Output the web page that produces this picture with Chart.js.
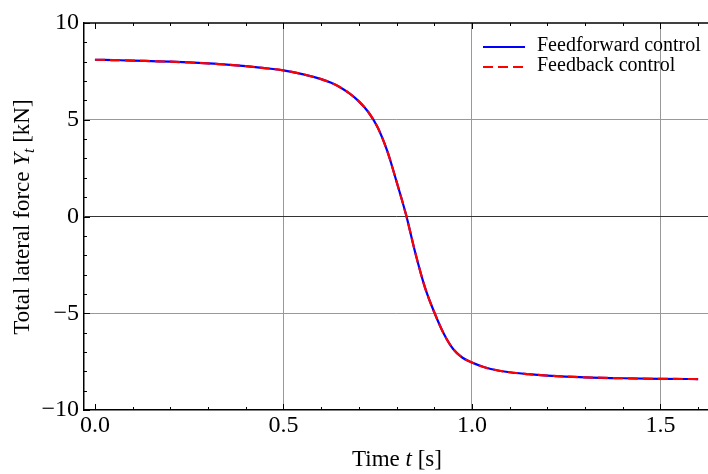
<!DOCTYPE html>
<html>
<head>
<meta charset="utf-8">
<script src="https://cdn.jsdelivr.net/npm/chart.js@4"></script>
<style>
  html, body { margin: 0; padding: 0; background: #fff; }
  #wrap { width: 708px; height: 474px; }
</style>
</head>
<body>
<div id="wrap"><canvas id="forceChart" width="708" height="474"></canvas></div>
<script>
// time samples [s]
const timeS = [0, 0.05, 0.1, 0.15, 0.2, 0.25, 0.3, 0.35, 0.4, 0.45, 0.5, 0.55, 0.6, 0.625, 0.65,
  0.675, 0.7, 0.725, 0.75, 0.775, 0.8, 0.825, 0.85, 0.875, 0.9, 0.925, 0.95, 0.975, 1.0,
  1.025, 1.05, 1.1, 1.15, 1.2, 1.3, 1.4, 1.5, 1.6];
// total lateral force [kN]
const feedforward = [8.10, 8.08, 8.06, 8.03, 8.00, 7.96, 7.91, 7.85, 7.77, 7.67, 7.55, 7.36, 7.10, 6.92, 6.68,
  6.36, 5.95, 5.40, 4.60, 3.40, 1.80, 0.10, -1.90, -3.65, -4.95, -6.05, -6.85, -7.30, -7.55,
  -7.74, -7.88, -8.05, -8.15, -8.22, -8.31, -8.36, -8.39, -8.40];
const feedback = [8.10, 8.08, 8.06, 8.03, 8.00, 7.96, 7.91, 7.85, 7.77, 7.67, 7.55, 7.36, 7.10, 6.92, 6.68,
  6.36, 5.95, 5.40, 4.60, 3.40, 1.80, 0.10, -1.90, -3.65, -4.95, -6.05, -6.85, -7.30, -7.55,
  -7.74, -7.88, -8.05, -8.15, -8.22, -8.31, -8.36, -8.39, -8.40];
const xTicks = [0, 0.5, 1.0, 1.5];
const yTicks = [-10, -5, 0, 5, 10];

const serif = "'Liberation Serif', 'DejaVu Serif', serif";
const toPoints = (ys) => ys.map((y, i) => ({ x: timeS[i], y: y }));
const fmtMinus = (v) => String(v).replace('-', '\u2212');

// frame ticks, top border, axis titles and the legend
const decorations = {
  id: 'decorations',
  afterDraw(chart) {
    const c = chart.ctx;
    const a = chart.chartArea;
    const xs = chart.scales.x;
    const ys = chart.scales.y;
    c.save();
    c.strokeStyle = '#000';
    c.lineWidth = 1;
    // x ticks, bottom and top
    for (let i = 0; i <= 16; i++) {
      const v = i / 10;
      const px = Math.round(xs.getPixelForValue(v)) + 0.5;
      const len = (i % 5 === 0) ? 6 : 3;
      c.beginPath();
      c.moveTo(px, a.bottom); c.lineTo(px, a.bottom - len);
      c.moveTo(px, a.top); c.lineTo(px, a.top + len);
      c.stroke();
    }
    // y ticks on the left
    for (let v = -10; v <= 10; v++) {
      const py = Math.round(ys.getPixelForValue(v)) + 0.5;
      const len = (v % 5 === 0) ? 6 : 3;
      c.beginPath();
      c.moveTo(a.left, py); c.lineTo(a.left + len, py);
      c.stroke();
    }
    // top frame line
    c.lineWidth = 1.5;
    c.beginPath();
    c.moveTo(a.left, a.top); c.lineTo(a.right, a.top);
    c.stroke();

    c.fillStyle = '#000';
    c.textBaseline = 'alphabetic';

    // x title: Time t [s]
    const parts = [['Time ', '23px ' + serif], ['t', 'italic 23px ' + serif], [' [s]', '23px ' + serif]];
    let total = 0;
    parts.forEach(p => { c.font = p[1]; total += c.measureText(p[0]).width; });
    let x0 = 397 - total / 2;
    parts.forEach(p => { c.font = p[1]; c.fillText(p[0], x0, 466); x0 += c.measureText(p[0]).width; });

    // y title: Total lateral force Y_t [kN]
    c.save();
    c.translate(29, 217);
    c.rotate(-Math.PI / 2);
    const yParts = [
      ['Total lateral force ', '23px ' + serif, 0],
      ['Y', 'italic 23px ' + serif, 0],
      ['t', 'italic 16px ' + serif, 5],
      [' [kN]', '23px ' + serif, 0]
    ];
    let ytot = 0;
    yParts.forEach(p => { c.font = p[1]; ytot += c.measureText(p[0]).width; });
    let y0 = -ytot / 2;
    yParts.forEach(p => { c.font = p[1]; c.fillText(p[0], y0, p[2]); y0 += c.measureText(p[0]).width; });
    c.restore();

    // legend
    c.font = '20px ' + serif;
    c.textBaseline = 'middle';
    c.lineWidth = 2;
    c.strokeStyle = '#0000ff';
    c.beginPath(); c.moveTo(483, 47); c.lineTo(525, 47); c.stroke();
    c.fillText('Feedforward control', 537, 46);
    c.strokeStyle = '#ff0000';
    c.setLineDash([10, 5]);
    c.beginPath(); c.moveTo(483, 67); c.lineTo(525, 67); c.stroke();
    c.setLineDash([]);
    c.fillText('Feedback control', 537, 66);
    c.restore();
  }
};

const ctx = document.getElementById('forceChart').getContext('2d');

new Chart(ctx, {
  type: 'line',
  data: {
    datasets: [
      {
        label: 'Feedforward control',
        data: toPoints(feedforward),
        borderColor: '#0000ff',
        borderWidth: 2.2,
        pointRadius: 0,
        cubicInterpolationMode: 'monotone',
        fill: false,
        order: 2
      },
      {
        label: 'Feedback control',
        data: toPoints(feedback),
        borderColor: '#ff0000',
        borderWidth: 2.2,
        borderDash: [10, 5],
        pointRadius: 0,
        cubicInterpolationMode: 'monotone',
        fill: false,
        order: 1
      }
    ]
  },
  options: {
    responsive: false,
    animation: false,
    layout: { padding: { top: 23, right: 0, left: 0, bottom: 0 } },
    plugins: {
      legend: { display: false },
      tooltip: { enabled: false }
    },
    scales: {
      x: {
        type: 'linear',
        min: -0.029,
        max: 1.626,
        afterBuildTicks: (scale) => { scale.ticks = xTicks.map(v => ({ value: v })); },
        afterFit: (scale) => { scale.height = 64; },
        ticks: {
          color: '#000',
          padding: 1,
          maxRotation: 0,
          font: { family: serif, size: 24 },
          callback: (v) => v.toFixed(1)
        },
        grid: {
          drawTicks: false,
          lineWidth: 1,
          color: (c) => (c.tick && c.tick.value === 0) ? 'rgba(0,0,0,0)' : '#999999'
        },
        border: { display: true, color: '#000', width: 1.5 }
      },
      y: {
        type: 'linear',
        min: -10,
        max: 10,
        afterBuildTicks: (scale) => { scale.ticks = yTicks.map(v => ({ value: v })); },
        afterFit: (scale) => { scale.width = 84; },
        ticks: {
          color: '#000',
          padding: 5,
          font: { family: serif, size: 24 },
          callback: (v) => fmtMinus(v)
        },
        grid: {
          drawTicks: false,
          lineWidth: 1,
          color: (c) => {
            const v = c.tick ? c.tick.value : null;
            if (v === 0) return '#333333';
            if (v === 10 || v === -10) return 'rgba(0,0,0,0)';
            return '#999999';
          }
        },
        border: { display: true, color: '#000', width: 1.5 }
      }
    }
  },
  plugins: [decorations]
});
</script>
</body>
</html>
